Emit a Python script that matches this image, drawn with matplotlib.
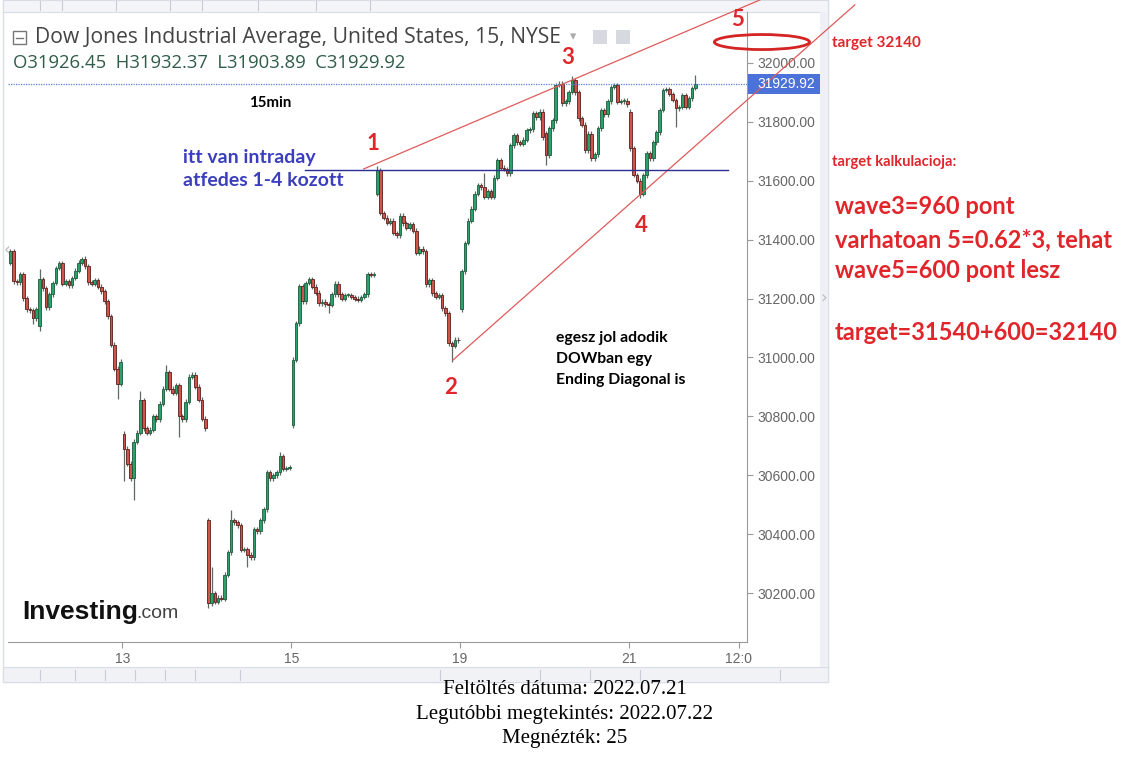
"""
Dow Jones 15-min chart (investing.com widget) with an ending-diagonal
wave count drawn on top.
"""
import matplotlib
matplotlib.use("Agg")
import matplotlib.pyplot as plt
from matplotlib.patches import Ellipse, Rectangle
from matplotlib.lines import Line2D

W, H = 1126, 782

# --------------------------------------------------------------------------
# Data
# --------------------------------------------------------------------------
BARS_PER_DAY = 26
DAY_FIRST_BAR = [17, 0, 0, 0, 0, 0, 0, 0, 0]          # day 11 only partly shown
DAY_OPEN = [31321, 31106, 30741, 30447, 30770, 31556, 31164, 31761, 31835]

CLOSE_D11 = [31362, 31259, 31255, 31283, 31201, 31164, 31160, 31133, 31165]
CLOSE_D12 = [31266, 31235, 31170, 31215, 31253, 31304, 31320, 31250, 31260,
             31245, 31270, 31295, 31322, 31335, 31310, 31255, 31250, 31262,
             31240, 31225, 31191, 31140, 31044, 30962, 30911, 30986]
CLOSE_D13 = [30690, 30640, 30590, 30714, 30745, 30855, 30760, 30745, 30755,
             30800, 30790, 30843, 30894, 30950, 30894, 30880, 30905, 30800,
             30790, 30850, 30935, 30942, 30901, 30857, 30792, 30760]
CLOSE_D14 = [30165, 30200, 30170, 30185, 30180, 30263, 30338, 30447, 30440,
             30430, 30348, 30350, 30330, 30322, 30416, 30410, 30447, 30485,
             30611, 30590, 30600, 30611, 30665, 30621, 30625, 30628]
CLOSE_D15 = [30993, 31116, 31242, 31191, 31253, 31265, 31240, 31220, 31184,
             31190, 31180, 31178, 31215, 31250, 31215, 31200, 31212, 31212,
             31205, 31200, 31195, 31205, 31215, 31283, 31280, 31282]
CLOSE_D18 = [31635, 31491, 31475, 31457, 31465, 31423, 31415, 31481, 31455,
             31440, 31452, 31430, 31355, 31370, 31360, 31249, 31262, 31218,
             31205, 31212, 31167, 31150, 31048, 31040, 31060, 31058]
CLOSE_D19 = [31293, 31389, 31464, 31505, 31556, 31584, 31578, 31545, 31565,
             31545, 31611, 31669, 31645, 31640, 31625, 31720, 31754, 31730,
             31725, 31740, 31771, 31775, 31829, 31815, 31835, 31747]
CLOSE_D20 = [31686, 31778, 31805, 31925, 31930, 31863, 31870, 31901, 31942,
             31900, 31812, 31790, 31703, 31760, 31676, 31690, 31778, 31840,
             31825, 31870, 31918, 31925, 31867, 31870, 31872, 31860]
CLOSE_D21 = [31710, 31620, 31600, 31556, 31618, 31693, 31676, 31730, 31764,
             31840, 31908, 31912, 31895, 31874, 31846, 31850, 31891, 31850,
             31880, 31915, 31929.92]

# notable wicks: global bar index -> (high, low)
WICKS = {-9: (31370, None), -2: (None, 31113), 0: (31300, 31089),
         13: (31341, None), 24: (None, 30860), 26: (None, 30580),
         29: (None, 30515), 31: (30887, None), 39: (30975, None),
         43: (None, 30730), 52: (None, 30150), 53: (30287, None),
         59: (30481, None), 64: (None, 30290), 74: (30679, 30600),
         89: (None, 31150), 104: (31650, None), 127: (None, 30986),
         137: (31628, None), 156: (None, 31652), 164: (31955, None),
         185: (None, 31543), 196: (None, 31782), 202: (31959, None)}

XTICK_POS = [25.5, 77.5, 129.5, 181.5, 215.4]
XTICK_LABELS = ["13", "15", "19", "21", "12:0"]
YTICKS = [30200, 30400, 30600, 30800, 31000, 31200, 31400, 31600, 31800, 32000]
LAST_PRICE = 31929.92

# wave count overlay (bar index, price)
UPPER_LINE = ([99.8, 221.9], [31640, 32214])
LOWER_LINE = ([127.3, 251.1], [30991, 32197])
OVERLAP_LINE = ([81.6, 211.9], [31637, 31637])
TARGET_ELLIPSE = (222.5, 32071, 29.3, 51)

UP, UP_EDGE = "#2ba06b", "#1d5a3d"
DOWN, DOWN_EDGE = "#cf5449", "#5a1e1e"
RED = "#e0262b"


def fx(x):
    return x / W


def fy(y):
    return 1 - y / H


def draw_candles(ax):
    closes = [CLOSE_D11, CLOSE_D12, CLOSE_D13, CLOSE_D14, CLOSE_D15,
              CLOSE_D18, CLOSE_D19, CLOSE_D20, CLOSE_D21]
    for d, cl in enumerate(closes):
        prev = DAY_OPEN[d]
        for k, c in enumerate(cl):
            i = (d - 1) * BARS_PER_DAY + DAY_FIRST_BAR[d] + k
            o = prev
            up = c >= o
            hi, lo = WICKS.get(i, (None, None))
            hi = hi if hi is not None else max(o, c) + 8
            lo = lo if lo is not None else min(o, c) - 8
            ax.vlines(i, lo, hi, color="#5d6b63", lw=0.9, zorder=2)
            h = max(abs(c - o), 3)
            ax.bar(i, h, bottom=min(o, c), width=0.82,
                   color=UP if up else DOWN,
                   edgecolor=UP_EDGE if up else DOWN_EDGE,
                   linewidth=0.6, zorder=3)
            prev = c


def chrome_rect(fig, x, y, w, h, zorder=-5, **kw):
    """Rectangle in pixel units (y from the top)."""
    fig.patches.append(Rectangle((fx(x), fy(y + h)), w / W, h / H,
                                 transform=fig.transFigure, zorder=zorder,
                                 **kw))


def main():
    fig = plt.figure(figsize=(W / 100, H / 100), dpi=100)

    # widget chrome
    chrome_rect(fig, 3, 0, 825, 682, facecolor="white", edgecolor="#d9dde6",
                lw=1.0)
    chrome_rect(fig, 3, 0, 825, 12, facecolor="#f3f5f9", edgecolor="#d9dde6",
                lw=0.8)
    chrome_rect(fig, 3, 667, 825, 15, facecolor="#f0f2f6",
                edgecolor="#d9dde6", lw=0.8)
    chrome_rect(fig, 820, 12, 8, 655, facecolor="#eef0f5", edgecolor="none")
    for sx in [40, 75, 105, 135, 165, 195, 240, 440, 540, 590, 640, 780]:
        fig.add_artist(Line2D([fx(sx), fx(sx)], [fy(670), fy(680)],
                              color="#c9ccd4", lw=0.8))
    for sx in [40, 62, 116, 170, 202, 258, 316, 370]:
        fig.add_artist(Line2D([fx(sx), fx(sx)], [fy(1), fy(10)],
                              color="#c9ccd4", lw=0.8))

    ax = fig.add_axes([fx(8), fy(642), (747 - 8) / W, (642 - 12) / H])
    ax.set_facecolor("none")
    draw_candles(ax)

    ax.set_xlim(-9.74, 217.9)
    ax.set_ylim(30034, 32173)
    for s in ["left", "top"]:
        ax.spines[s].set_visible(False)
    for s in ["right", "bottom"]:
        ax.spines[s].set_color("#9a9a9a")
    ax.yaxis.tick_right()
    ax.set_yticks(YTICKS)
    ax.set_yticklabels([f"{v:.2f}" for v in YTICKS])
    ax.set_xticks(XTICK_POS)
    ax.set_xticklabels(XTICK_LABELS)
    ax.tick_params(axis="both", colors="#9a9a9a", labelcolor="#666666",
                   labelsize=10, length=4)
    for lab in ax.get_xticklabels() + ax.get_yticklabels():
        lab.set_fontfamily("Liberation Sans")

    # last price line and label
    ax.axhline(LAST_PRICE, color="#5a7fd8", lw=0.9, ls=(0, (1, 1)), zorder=4)
    ax.add_patch(Rectangle((1.0014, LAST_PRICE - 34), 0.0974, 68,
                           transform=ax.get_yaxis_transform(),
                           facecolor="#4a72d9", edgecolor="none",
                           clip_on=False, zorder=5))
    ax.text(1.0135, LAST_PRICE, f"{LAST_PRICE:.2f}",
            transform=ax.get_yaxis_transform(), ha="left", va="center",
            fontsize=10, color="white", family="Liberation Sans",
            zorder=6, clip_on=False)

    # wave count overlay
    ax.plot(*UPPER_LINE, color="#e05a5a", lw=0.9, clip_on=False, zorder=5)
    ax.plot(*LOWER_LINE, color="#e05a5a", lw=0.9, clip_on=False, zorder=5)
    ax.plot(*OVERLAP_LINE, color="#2d2d95", lw=1.0, zorder=5)
    ex, ey, ew, eh = TARGET_ELLIPSE
    ax.add_patch(Ellipse((ex, ey), ew, eh, fill=False, ec="#d42424",
                         lw=2.0, clip_on=False, zorder=6))

    # header
    fig.patches.append(Rectangle((fx(13), fy(44)), 13 / W, 13 / H,
                                 transform=fig.transFigure, fill=False,
                                 ec="#777777", lw=1.0))
    fig.add_artist(Line2D([fx(16), fx(23)], [fy(37.5), fy(37.5)],
                          color="#777777", lw=1.0))
    fig.text(fx(35), fy(37), "Dow Jones Industrial Average, United States, 15, NYSE",
             ha="left", va="center", fontsize=15.2, color="#444444",
             family="Open Sans")
    fig.text(fx(570), fy(37), "\u25be", ha="left", va="center",
             fontsize=9, color="#aaaaaa")
    for cx in [600, 623]:
        fig.patches.append(Rectangle((fx(cx - 7), fy(44)), 14 / W, 14 / H,
                                     transform=fig.transFigure,
                                     fc="#d6d9df", ec="none"))
    fig.text(fx(13), fy(63), "O31926.45  H31932.37  L31903.89  C31929.92",
             ha="left", va="center", fontsize=13.3, color="#2f5d4a",
             family="Open Sans")

    fig.text(fx(270), fy(103), "15min", ha="center", va="center",
             fontsize=10.8, fontweight="bold", color="black", family="Lato")
    fig.text(fx(183), fy(157), "itt van intraday", ha="left", va="center",
             fontsize=14, fontweight="bold", color="#3b3fbd", family="Lato")
    fig.text(fx(183), fy(180), "atfedes 1-4 kozott", ha="left", va="center",
             fontsize=14, fontweight="bold", color="#3b3fbd", family="Lato")
    for s, x, y in [("1", 373, 143), ("2", 451, 388), ("3", 568, 58),
                    ("4", 641, 225), ("5", 738, 20)]:
        fig.text(fx(x), fy(y), s, ha="center", va="center", fontsize=16,
                 fontweight="bold", color=RED, family="Lato")
    for s, y in [("egesz jol adodik", 338), ("DOWban egy", 359),
                 ("Ending Diagonal is", 380)]:
        fig.text(fx(556), fy(y), s, ha="left", va="center", fontsize=11.3,
                 fontweight="bold", color="black", family="Lato")

    # right-hand notes
    fig.text(fx(832), fy(43), "target 32140", ha="left", va="center",
             fontsize=11, fontweight="bold", color=RED, family="Lato")
    fig.text(fx(832), fy(162), "target kalkulacioja:", ha="left", va="center",
             fontsize=10.6, fontweight="bold", color=RED, family="Lato")
    for s, y in [("wave3=960 pont", 207), ("varhatoan 5=0.62*3, tehat", 240),
                 ("wave5=600 pont lesz", 270),
                 ("target=31540+600=32140", 332)]:
        fig.text(fx(835), fy(y), s, ha="left", va="center", fontsize=17,
                 fontweight="bold", color=RED, family="Lato")

    # logo and side arrows
    fig.text(fx(22), fy(612), "Investing", ha="left", va="center",
             fontsize=19, fontweight="bold", color="#111111",
             family="Liberation Sans")
    fig.text(fx(136), fy(614), ".com", ha="left", va="center",
             fontsize=14, color="#444444", family="Liberation Sans")
    fig.text(fx(4), fy(250), "\u2039", ha="left", va="center",
             fontsize=12, color="#bbbbbb")
    fig.text(fx(824), fy(298), "\u203a", ha="center", va="center",
             fontsize=12, color="#bbbbbb")

    # page caption
    for s, y in [("Feltöltés dátuma: 2022.07.21", 690),
                 ("Legutóbbi megtekintés: 2022.07.22", 715),
                 ("Megnézték: 25", 738)]:
        fig.text(fx(565), fy(y), s, ha="center", va="center", fontsize=15,
                 color="black", family="Liberation Serif")

    fig.savefig("out.png", dpi=100)
    plt.close(fig)


if __name__ == "__main__":
    main()
